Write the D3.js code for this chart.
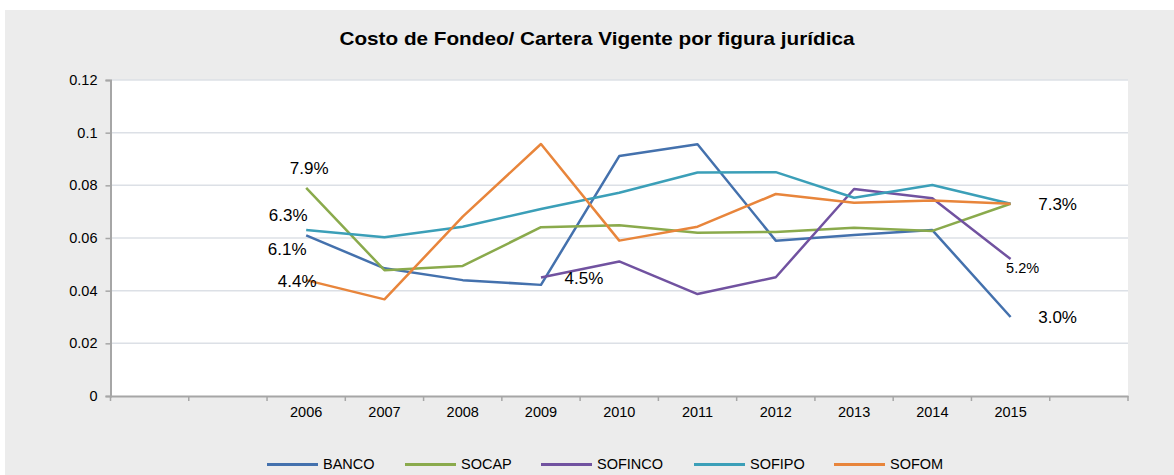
<!DOCTYPE html>
<html>
<head>
<meta charset="utf-8">
<title>Costo de Fondeo</title>
<script src="https://cdn.jsdelivr.net/npm/d3@7/dist/d3.min.js"></script>
<style>
    body { margin: 0; background: #ffffff; }
    svg { display: block; font-family: "Liberation Sans", Arial, sans-serif; }
</style>
</head>
<body>
<div id="chart"></div>
<script>
    // data
    var categories = ["_a", "_b", "2006", "2007", "2008", "2009", "2010", "2011", "2012", "2013", "2014", "2015", "_c"];
    var years = ["2006", "2007", "2008", "2009", "2010", "2011", "2012", "2013", "2014", "2015"];
    var banco   = [0.061, 0.0485, 0.044, 0.0422, 0.0911, 0.0956, 0.059, 0.0611, 0.063, 0.030];
    var socap   = [0.079, 0.0478, 0.0494, 0.0641, 0.0648, 0.062, 0.0623, 0.0639, 0.0627, 0.073];
    var sofinco = [null, null, null, 0.045, 0.0511, 0.0387, 0.0451, 0.0786, 0.0751, 0.052];
    var sofipo  = [0.063, 0.0603, 0.0643, 0.071, 0.0772, 0.0849, 0.085, 0.0753, 0.0801, 0.073];
    var sofom   = [0.044, 0.0367, 0.0681, 0.0957, 0.059, 0.0643, 0.0767, 0.0734, 0.0742, 0.073];
    var seriesNames = ["BANCO", "SOCAP", "SOFINCO", "SOFIPO", "SOFOM"];
    var yTicks = [0, 0.02, 0.04, 0.06, 0.08, 0.1, 0.12];
    // labels: series, year, text
    var labels = [
        ["SOCAP", "2006", "7.9%"], ["SOFIPO", "2006", "6.3%"], ["BANCO", "2006", "6.1%"],
        ["SOFOM", "2006", "4.4%"], ["SOFINCO", "2009", "4.5%"],
        ["SOFIPO", "2015", "7.3%"], ["SOFINCO", "2015", "5.2%"], ["BANCO", "2015", "3.0%"]
    ];

    var colors = {"BANCO": "#4471ad", "SOCAP": "#8aaa4c", "SOFINCO": "#7152a0", "SOFIPO": "#3b9fb8", "SOFOM": "#e8853b"};
    var seriesData = {"BANCO": banco, "SOCAP": socap, "SOFINCO": sofinco, "SOFIPO": sofipo, "SOFOM": sofom};

    var width = 1174, height = 475;
    var plot = {left: 110.5, right: 1128, top: 80, bottom: 396};
    var tickFont = 14.5;

    var svg = d3.select("#chart").append("svg")
        .attr("width", width)
        .attr("height", height);

    svg.append("rect").attr("x", 5).attr("y", 10)
        .attr("width", width - 5).attr("height", height - 10)
        .attr("fill", "#ececec");
    svg.append("rect").attr("x", plot.left).attr("y", plot.top)
        .attr("width", plot.right - plot.left).attr("height", plot.bottom - plot.top)
        .attr("fill", "#ffffff");

    svg.append("text")
        .attr("x", 597).attr("y", 45)
        .attr("text-anchor", "middle")
        .attr("font-weight", "bold")
        .attr("font-size", 19)
        .attr("textLength", 515)
        .attr("lengthAdjust", "spacingAndGlyphs")
        .attr("fill", "#000")
        .text("Costo de Fondeo/ Cartera Vigente por figura jurídica");

    var x = d3.scaleBand().domain(categories).range([plot.left, plot.right]);
    var y = d3.scaleLinear().domain([0, 0.12]).range([plot.bottom, plot.top]);

    // grid
    svg.append("g").selectAll("line").data(yTicks.filter(function(d){ return d > 0; }))
        .enter().append("line")
        .attr("x1", plot.left).attr("x2", plot.right)
        .attr("y1", function(d){ return y(d); }).attr("y2", function(d){ return y(d); })
        .attr("stroke", "#dce0e6").attr("stroke-width", 1.5);

    // y axis
    var yAxis = svg.append("g")
        .attr("transform", "translate(" + plot.left + ",0)")
        .call(d3.axisLeft(y).tickValues(yTicks).tickSize(5).tickPadding(8).tickFormat(function(d){ return String(+d.toFixed(2)); }));
    yAxis.select(".domain").attr("stroke", "#a6a6a6").attr("stroke-width", 2);
    yAxis.selectAll(".tick line").attr("stroke", "#a6a6a6").attr("stroke-width", 1.5);
    yAxis.selectAll("text").attr("font-size", tickFont).attr("fill", "#000").attr("font-family", "Liberation Sans, Arial, sans-serif");

    // x axis
    var xAxis = svg.append("g")
        .attr("transform", "translate(0," + plot.bottom + ")")
        .call(d3.axisBottom(x).tickSize(0).tickPadding(11)
            .tickFormat(function(d){ return d.charAt(0) === "_" ? "" : d; }));
    xAxis.select(".domain").attr("stroke", "#a6a6a6").attr("stroke-width", 2);
    xAxis.selectAll("text").attr("font-size", tickFont).attr("fill", "#000").attr("font-family", "Liberation Sans, Arial, sans-serif");
    var edges = categories.map(function(c){ return x(c); }).concat([plot.right]);
    svg.append("g").selectAll("line").data(edges).enter().append("line")
        .attr("x1", function(d){ return d; }).attr("x2", function(d){ return d; })
        .attr("y1", plot.bottom).attr("y2", plot.bottom + 5)
        .attr("stroke", "#a6a6a6").attr("stroke-width", 1.5);

    var cx = function(yr){ return x(yr) + x.bandwidth() / 2; };

    var line = d3.line()
        .defined(function(d){ return d.v !== null; })
        .x(function(d){ return cx(d.year); })
        .y(function(d){ return y(d.v); });

    seriesNames.forEach(function(name){
        var pts = years.map(function(yr, i){ return {year: yr, v: seriesData[name][i]}; });
        svg.append("path")
            .datum(pts)
            .attr("d", line)
            .attr("fill", "none")
            .attr("stroke", colors[name])
            .attr("stroke-width", 2.5)
            .attr("stroke-linejoin", "round");
    });

    // data labels
    var labelOffsets = {
        "SOCAP|2006": [3, -18, 17], "SOFIPO|2006": [-18, -14, 17], "BANCO|2006": [-19, 15, 17],
        "SOFOM|2006": [-9, 2, 17], "SOFINCO|2009": [43, 2, 17],
        "SOFIPO|2015": [47, 2, 17], "SOFINCO|2015": [12, 10, 14.5], "BANCO|2015": [47, 2, 17]
    };
    labels.forEach(function(l){
        var idx = years.indexOf(l[1]);
        var off = labelOffsets[l[0] + "|" + l[1]];
        svg.append("text")
            .attr("x", cx(l[1]) + off[0])
            .attr("y", y(seriesData[l[0]][idx]) + off[1])
            .attr("text-anchor", "middle")
            .attr("dominant-baseline", "middle")
            .attr("font-size", off[2])
            .attr("fill", "#000")
            .text(l[2]);
    });

    // legend
    var legendX = [267, 405, 541, 694, 834];
    var legend = svg.append("g");
    seriesNames.forEach(function(name, i){
        legend.append("line")
            .attr("x1", legendX[i]).attr("x2", legendX[i] + 51)
            .attr("y1", 464.5).attr("y2", 464.5)
            .attr("stroke", colors[name]).attr("stroke-width", 3);
        legend.append("text")
            .attr("x", legendX[i] + 56).attr("y", 465)
            .attr("dominant-baseline", "middle")
            .attr("font-size", tickFont)
            .attr("fill", "#000")
            .text(name);
    });
</script>
</body>
</html>
